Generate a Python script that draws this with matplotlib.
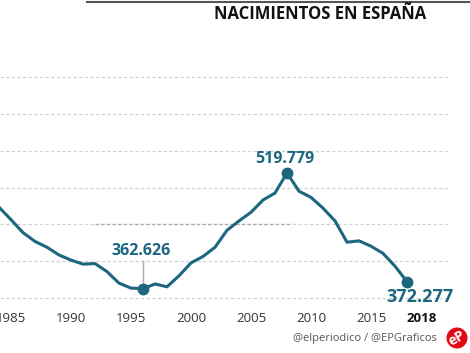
import matplotlib
matplotlib.use("Agg")
import matplotlib.pyplot as plt
from matplotlib.patches import Circle

# Data: births in Spain (annual)
years = list(range(1983, 2019))
births = [485352, 473281, 456298, 438750, 426782, 418919, 408434, 401425,
          395989, 396747, 385786, 370148, 363469, 362626, 369035, 365193,
          380130, 397632, 406380, 418846, 441881, 454591, 466371, 482957,
          492527, 519779, 494997, 486575, 471999, 454648, 425715, 427595,
          420290, 410583, 393181, 372277]
tick_years = [1985, 1990, 1995, 2000, 2005, 2010, 2015]
grid_values = [350000, 400000, 450000, 500000, 550000, 600000, 650000]
highlights = {1996: "362.626", 2008: "519.779", 2018: "372.277"}

LINE = "#1d6680"
FONT = ["Open Sans", "DejaVu Sans"]

W, H = 470, 353
fig = plt.figure(figsize=(W / 100, H / 100), dpi=100)
ax = fig.add_axes([0, 0, 1, 1])
# pixel mapping
x0 = 1985 - 11 / 12
x1 = x0 + W / 12
upp = 1357.5
ytop = 350000 + 298 * upp
ybot = 350000 - (H - 298) * upp
ax.set_xlim(x0, x1)
ax.set_ylim(ybot, ytop)
ax.axis("off")

gx_end = 1985 + (450 - 11) / 12
for g in grid_values:
    ax.plot([x0, gx_end], [g, g], color="#d2d2d2", lw=0.9, ls=(0, (2.6, 1.9)), zorder=1)
ax.plot([1992, 2008.3], [450000, 450000], color="#a8a8a8", lw=0.9, ls=(0, (2.6, 1.9)), zorder=1.5)

ax.plot(years, births, color=LINE, lw=2.2, solid_joinstyle="round", solid_capstyle="round", zorder=3)
for yr in highlights:
    v = births[years.index(yr)]
    ax.plot([yr], [v], "o", color=LINE, ms=7.5, zorder=4)

# leader line for 1996
v96 = births[years.index(1996)]
ax.plot([1996, 1996], [400000, v96], color="#aaaaaa", lw=1, zorder=2)

ax.text(1996 - 0.2, 350000 + (298 - 251) * upp, highlights[1996], ha="center", va="center",
        fontsize=11.5, fontweight="bold", color=LINE, family=FONT)
ax.text(2008 - 0.2, 350000 + (298 - 159) * upp, highlights[2008], ha="center", va="center",
        fontsize=11.5, fontweight="bold", color=LINE, family=FONT)
ax.text(2019.1, 350000 + (298 - 297) * upp, highlights[2018], ha="center", va="center",
        fontsize=13, fontweight="bold", color=LINE, family=FONT)

# x tick labels
ty = 350000 + (298 - 319) * upp
for t in tick_years:
    ax.text(t, ty, str(t), ha="center", va="center", fontsize=9.5, color="#333333", family=FONT)
ax.text(2017.95, ty, "2018", ha="left", va="center", fontsize=9.5, fontweight="bold",
        color="#111111", family=FONT)

# title and top rule
fig.add_artist(plt.Line2D([87 / W, 1], [1 - 2 / H, 1 - 2 / H], color="#555555", lw=1.5))
fig.text(320 / W, 1 - 14 / H, "NACIMIENTOS EN ESPAÑA", ha="center", va="center",
         fontsize=12, fontweight="bold", color="#111111", family=FONT)

# footer
fig.text(437 / W, 1 - 339 / H, "@elperiodico / @EPGraficos", ha="right", va="center",
         fontsize=8, color="#555555", family=FONT)
fig.add_artist(Circle((4.57, (H - 338) / 100), radius=0.105, transform=fig.dpi_scale_trans,
                      facecolor="#e30613", edgecolor="none"))
fig.text(457 / W, 1 - 338 / H, "eP", ha="center", va="center", fontsize=10, fontweight="bold",
         color="white", rotation=30, family=FONT)

fig.savefig("out.png", dpi=100)
